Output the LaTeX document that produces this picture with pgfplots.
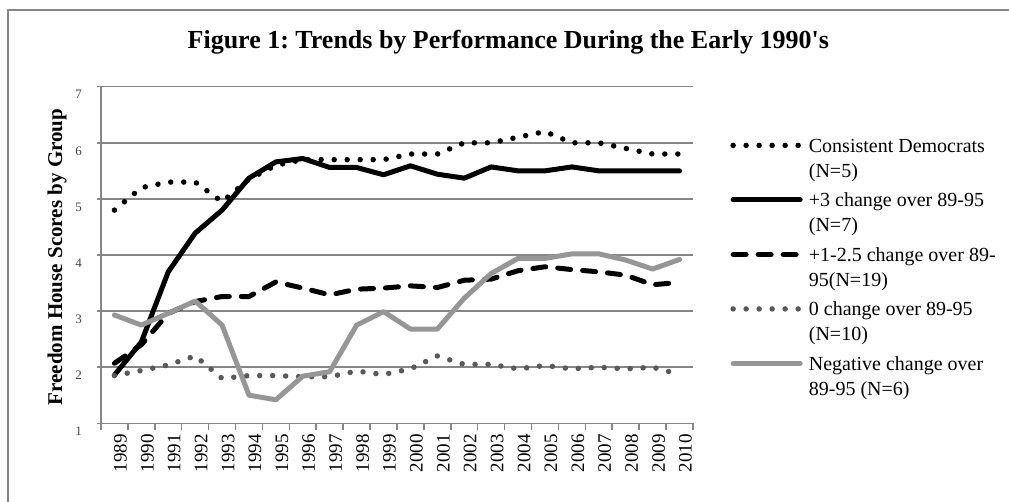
\documentclass[border=0pt]{standalone}
\usepackage{fontspec}
\setmainfont{Liberation Serif}
\usepackage{pgfplots}
\pgfplotsset{compat=1.18}
\frenchspacing

\definecolor{gridgray}{RGB}{134,134,134}
\definecolor{dotgray}{RGB}{89,89,89}
\definecolor{neggray}{RGB}{150,150,150}
\definecolor{ticktext}{RGB}{70,70,70}

\begin{document}
\begin{tikzpicture}[x=0.5pt,y=0.5pt]
\useasboundingbox (0,0) rectangle (1009,502);
% chart frame (only top and left edges are inside the crop)
\draw[gridgray, line width=1pt] (8,0) -- (8,492) -- (1009,492);

\begin{axis}[
    at={(50.5pt,39.35pt)}, anchor=south west,
    scale only axis,
    width=296pt, height=168.3pt,
    xmin=1988.5, xmax=2010.5,
    ymin=1, ymax=7,
    xtick={1989,...,2010},
    minor xtick={1988.5,1989.5,...,2010.5},
    ytick={1,...,7},
    axis x line=bottom, axis y line=left,
    axis line style={-, draw=gridgray, line width=0.75pt},
    ymajorgrids,
    grid style={draw=gridgray, line width=0.75pt},
    tick align=outside,
    major tick length=2pt, minor tick length=3.5pt,
    major x tick style={draw=none},
    minor x tick style={draw=gridgray, line width=0.75pt},
    major y tick style={draw=gridgray, line width=0.75pt},
    /pgf/number format/assume math mode=true,
    /pgf/number format/1000 sep={},
    xticklabel style={rotate=90, anchor=east, font=\fontsize{9.5}{11}\selectfont, yshift=-3pt},
    yticklabel style={font=\fontsize{6.5}{8}\selectfont, text=ticktext, xshift=-4pt, yshift=-4pt},
    ylabel={Freedom House Scores by Group},
    ylabel style={at={(axis description cs:-0.0743,0.494)}, anchor=center, font=\fontsize{10.5}{12}\selectfont\bfseries},
    title={Figure 1: Trends by Performance During the Early 1990\textquotesingle s},
    title style={at={(axis description cs:0.688,1.077)}, anchor=base, font=\fontsize{13}{15}\selectfont\bfseries},
    legend image code/.code={\draw[#1] (1.25pt,3.5pt) -- (34.75pt,3.5pt);},
    legend style={at={(1.0625,0.8535)}, anchor=north west, draw=none, fill=none,
        inner sep=0pt, row sep=2.25pt, column sep=3pt,
        cells={anchor=base west},
        nodes={inner sep=0pt, text height=8pt, text depth=17pt, font=\fontsize{10}{12.5}\selectfont}},
    every axis plot/.append style={line width=2.5pt, line join=round},
]
% Consistent Democrats (N=5)
\addplot[black, line cap=round, line width=2.75pt, dash pattern=on 0pt off 6.5pt] coordinates {
 (1989,4.80) (1990,5.20) (1991,5.30) (1992,5.30) (1993,4.95) (1994,5.35)
 (1995,5.60) (1996,5.70) (1997,5.70) (1998,5.70) (1999,5.70) (2000,5.80)
 (2001,5.80) (2002,6.00) (2003,6.00) (2004,6.10) (2005,6.20) (2006,6.00)
 (2007,6.00) (2008,5.90) (2009,5.80) (2010,5.80)};
\addlegendentry{\parbox[t]{110pt}{\raggedright Consistent Democrats\\(N=5)}}
% +3 change over 89-95 (N=7)
\addplot[black, line cap=round] coordinates {
 (1989,1.86) (1990,2.45) (1991,3.70) (1992,4.39) (1993,4.80) (1994,5.37)
 (1995,5.66) (1996,5.72) (1997,5.56) (1998,5.56) (1999,5.43) (2000,5.59)
 (2001,5.44) (2002,5.37) (2003,5.57) (2004,5.50) (2005,5.50) (2006,5.57)
 (2007,5.50) (2008,5.50) (2009,5.50) (2010,5.50)};
\addlegendentry{\parbox[t]{110pt}{\raggedright +3 change over 89-95\\(N=7)}}
% +1-2.5 change over 89-95 (N=19)
\addplot[black, line cap=round, dash pattern=on 6.5pt off 6pt] coordinates {
 (1989,2.07) (1990,2.40) (1991,2.96) (1992,3.17) (1993,3.26) (1994,3.26)
 (1995,3.52) (1996,3.41) (1997,3.29) (1998,3.39) (1999,3.41) (2000,3.45)
 (2001,3.42) (2002,3.55) (2003,3.57) (2004,3.72) (2005,3.79) (2006,3.74)
 (2007,3.70) (2008,3.64) (2009,3.47) (2010,3.51)};
\addlegendentry{\parbox[t]{110pt}{\raggedright +1-2.5 change over 89-\\95(N=19)}}
% 0 change over 89-95 (N=10)
\addplot[dotgray, line cap=round, line width=2.75pt, dash pattern=on 0pt off 6.5pt] coordinates {
 (1989,1.85) (1990,1.94) (1991,2.04) (1992,2.20) (1993,1.80) (1994,1.85)
 (1995,1.85) (1996,1.83) (1997,1.83) (1998,1.93) (1999,1.87) (2000,1.97)
 (2001,2.20) (2002,2.05) (2003,2.05) (2004,1.97) (2005,2.03) (2006,1.97)
 (2007,2.00) (2008,1.97) (2009,2.00) (2010,1.87)};
\addlegendentry{\parbox[t]{110pt}{\raggedright 0 change over 89-95\\(N=10)}}
% Negative change over 89-95 (N=6)
\addplot[neggray, line cap=round] coordinates {
 (1989,2.93) (1990,2.75) (1991,2.96) (1992,3.18) (1993,2.75) (1994,1.50)
 (1995,1.42) (1996,1.84) (1997,1.92) (1998,2.75) (1999,2.99) (2000,2.68)
 (2001,2.68) (2002,3.23) (2003,3.67) (2004,3.94) (2005,3.94) (2006,4.02)
 (2007,4.02) (2008,3.91) (2009,3.75) (2010,3.92)};
\addlegendentry{\parbox[t]{110pt}{\raggedright Negative change over\\89-95 (N=6)}}
\end{axis}
\end{tikzpicture}
\end{document}
